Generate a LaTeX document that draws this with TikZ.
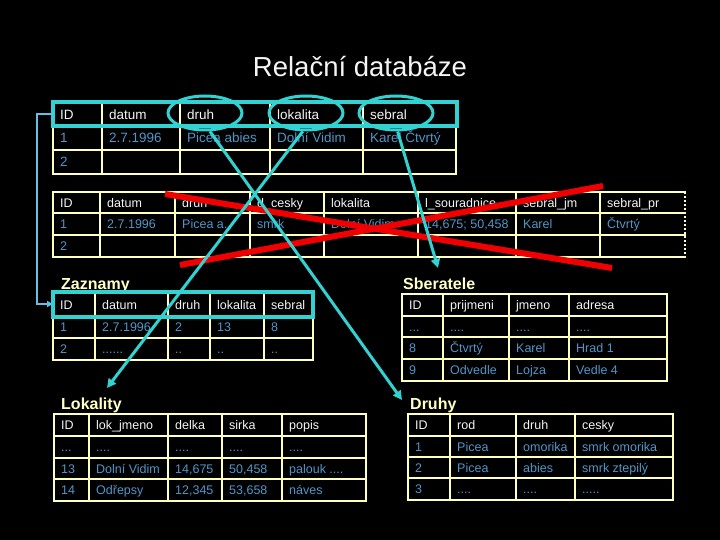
\documentclass[tikz,border=0pt]{standalone}
\usepackage{fontspec}
\setmainfont{Liberation Sans}
\usetikzlibrary{arrows.meta,shapes.geometric}
\definecolor{gridc}{RGB}{255,255,190}
\definecolor{hdrtxt}{RGB}{245,245,245}
\definecolor{dattxt}{RGB}{80,150,200}
\definecolor{cy}{RGB}{50,210,210}
\definecolor{lblue}{RGB}{100,190,230}
\definecolor{ttl}{RGB}{255,255,200}
\definecolor{rd}{RGB}{240,0,0}
% grid: cols, rows, y0, y1, x0, x1
\newcommand\dbgrid[6]{%
  \foreach \c in {#1} \draw[gridline] (\c,#3) -- (\c,#4);
  \foreach \r in {#2} \draw[gridline] (#5,\r) -- (#6,\r);
}
% row of texts: name prefix, style, y (row centre), list x/text
\newcommand\dbrow[4]{%
  \foreach \x/\t [count=\i] in {#4} \node[#2] (#1-\i) at (\x+7,#3+4.6) {\t};
}
\begin{document}
\begin{tikzpicture}[x=1pt,y=-1pt,
  gridline/.style={draw=gridc, line width=2pt, line cap=rect},
  hdr/.style={anchor=base west, inner sep=0pt, text=hdrtxt, font=\fontsize{12.5}{14}\selectfont},
  dat/.style={anchor=base west, inner sep=0pt, text=dattxt, font=\fontsize{12.5}{14}\selectfont},
  hdrA/.style={hdr, font=\fontsize{13.5}{15}\selectfont},
  datA/.style={dat, font=\fontsize{13.5}{15}\selectfont},
  tbltitle/.style={anchor=base west, inner sep=0pt, text=ttl, font=\fontsize{16}{18}\selectfont\bfseries},
  hilite/.style={draw=cy, line width=4pt},
  ell/.style={draw=cy, line width=3pt, ellipse, minimum width=74pt, minimum height=34pt, inner sep=0pt},
  cyarrow/.style={draw=cy, line width=3pt, -{Triangle[length=9pt,width=9pt]}},
  redline/.style={draw=rd, line width=6pt},
  linkline/.style={draw=lblue, line width=2pt, -{Triangle[length=6pt,width=6pt]}}
]
\fill[black] (0,0) rectangle (720,540);
\useasboundingbox (0,0) rectangle (720,540);

\node[text=hdrtxt, font=\fontsize{27.5}{30}\selectfont] (title) at (360,67) {Relační databáze};

% ---- table 1
\dbgrid{53,102,180,270,363,456}{103,126,150,174}{103}{174}{53}{456}
\dbrow{ta}{hdrA}{114.5}{53/ID,102/datum,180/druh,270/lokalita,363/sebral}
\dbrow{tb}{datA}{138}{53/1,102/2.7.1996,180/Picea abies,270/Dolní Vidim,363/Karel Čtvrtý}
\dbrow{tc}{datA}{162}{53/2}
\draw[hilite] (53,102) rectangle (457,126);

% ---- table 2
\dbgrid{53,100,175,250,324,418,516,600}{192,213,235,257}{192}{257}{53}{685}
\draw[draw=gridc, line width=2pt, dash pattern=on 2pt off 2pt] (685,192) -- (685,257);
\dbrow{ua}{hdr}{202.5}{53/ID,100/datum,175/druh,250/d\_cesky,324/lokalita,418/l\_souradnice,516/sebral\_jm,600/sebral\_pr}
\dbrow{ub}{dat}{224}{53/1,100/2.7.1996,175/{Picea a..},250/smrk,324/Dolní Vidim,418/{14,675; 50,458},516/Karel,600/Čtvrtý}
\dbrow{uc}{dat}{246}{53/2}

% ---- Zaznamy
\node[tbltitle] (zazT) at (61,289) {Zaznamy};
\dbgrid{53,95,168,210,264,313}{293,316,338,360}{293}{360}{53}{313}
\dbrow{za}{hdr}{304.5}{53/ID,95/datum,168/druh,210/lokalita,264/sebral}
\dbrow{zb}{dat}{327}{53/1,95/2.7.1996,168/2,210/13,264/8}
\dbrow{zc}{dat}{349}{53/2,95/{......},168/{..},210/{..},264/{..}}
\draw[hilite] (53,292) rectangle (313,317);

% ---- Sberatele
\node[tbltitle] (sbT) at (403,289) {Sberatele};
\dbgrid{402,443,509,569,667}{294,316,337,359,381}{294}{381}{402}{667}
\dbrow{sa}{hdr}{305}{402/ID,443/prijmeni,509/jmeno,569/adresa}
\dbrow{sb}{dat}{326.5}{402/{...},443/{....},509/{....},569/{....}}
\dbrow{sc}{dat}{348}{402/8,443/Čtvrtý,509/Karel,569/Hrad 1}
\dbrow{sd}{dat}{370}{402/9,443/Odvedle,509/Lojza,569/Vedle 4}

% ---- Lokality
\node[tbltitle] (lokT) at (61,409) {Lokality};
\dbgrid{54,89,168,222,282,366}{414,436,458,479,501}{414}{501}{54}{366}
\dbrow{la}{hdr}{425}{54/ID,89/lok\_jmeno,168/delka,222/sirka,282/popis}
\dbrow{lb}{dat}{447}{54/{...},89/{....},168/{....},222/{....},282/{....}}
\dbrow{lc}{dat}{468.5}{54/13,89/Dolní Vidim,168/{14,675},222/{50,458},282/{palouk ....}}
\dbrow{ld}{dat}{490}{54/14,89/Odřepsy,168/{12,345},222/{53,658},282/náves}

% ---- Druhy
\node[tbltitle] (drT) at (410,409) {Druhy};
\dbgrid{408,450,516,575,673}{414,436,457,478,500}{414}{500}{408}{673}
\dbrow{da}{hdr}{425}{408/ID,450/rod,516/druh,575/cesky}
\dbrow{db}{dat}{446.5}{408/1,450/Picea,516/omorika,575/smrk omorika}
\dbrow{dc}{dat}{467.5}{408/2,450/Picea,516/abies,575/smrk ztepilý}
\dbrow{dd}{dat}{489}{408/3,450/{....},516/{....},575/{.....}}

% ---- red cross
\coordinate (r1a) at (165,194);
\coordinate (r1b) at (612,268);
\coordinate (r2a) at (180,265);
\coordinate (r2b) at (603,186);
\draw[redline] (r1a) -- (r1b);
\draw[redline] (r2a) -- (r2b);

% ---- left link
\coordinate (lkA) at (53,114);
\coordinate (lkB) at (37,114);
\coordinate (lkC) at (37,304);
\coordinate (lkD) at (53,304);
\draw[linkline] (lkA) -- (lkB) -- (lkC) -- (lkD);

% ---- ellipses and arrows
\node[ell] (eDruh) at (205,113) {};
\node[ell] (eLok) at (306,113) {};
\node[ell] (eSeb) at (396,113) {};
\coordinate (tipDruhy) at (402,400);
\coordinate (tipLok) at (107,388);
\coordinate (tipSeb) at (438,268);
\draw[cyarrow] (eDruh.-75) -- (tipDruhy);
\draw[cyarrow] (eLok.-100) -- (tipLok);
\draw[cyarrow] (eSeb.-85) -- (tipSeb);
\end{tikzpicture}
\end{document}
